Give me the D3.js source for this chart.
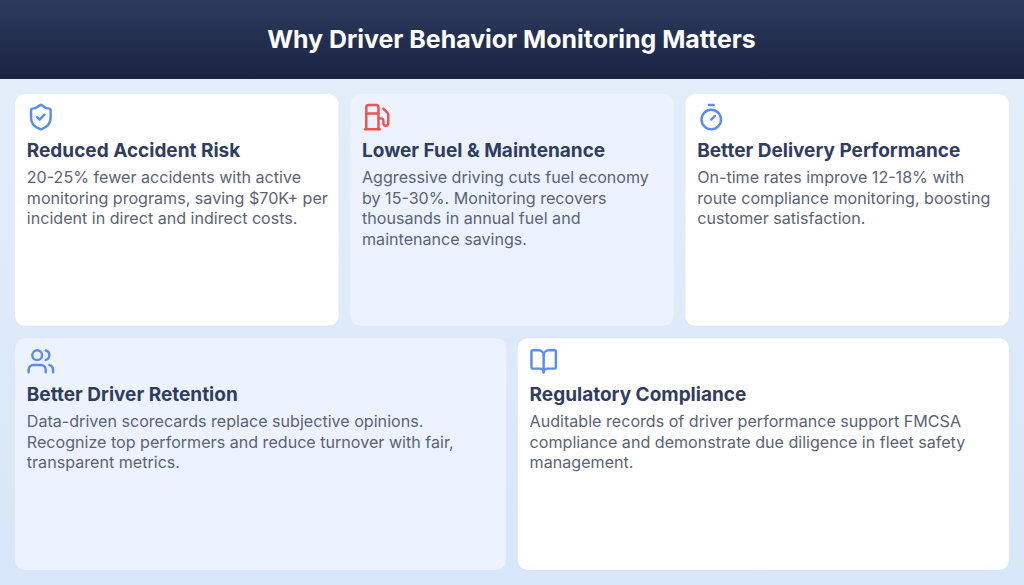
<!DOCTYPE html>
<html>
<head>
<meta charset="utf-8">
<title>Why Driver Behavior Monitoring Matters</title>
<script src="https://cdn.jsdelivr.net/npm/d3@7.9.0/dist/d3.min.js"></script>
<style>
  html, body { margin: 0; padding: 0; background: #dfeafa; overflow: hidden; }
  text { font-family: Inter, sans-serif; }
</style>
</head>
<body>
<svg id="chart"></svg>
<script>
const pageTitle = 'Why Driver Behavior Monitoring Matters';

const cardTitles = [
  'Reduced Accident Risk',
  'Lower Fuel & Maintenance',
  'Better Delivery Performance',
  'Better Driver Retention',
  'Regulatory Compliance',
];

const cardBodies = [
  ['20-25% fewer accidents with active', 'monitoring programs, saving $70K+ per', 'incident in direct and indirect costs.'],
  ['Aggressive driving cuts fuel economy', 'by 15-30%. Monitoring recovers', 'thousands in annual fuel and', 'maintenance savings.'],
  ['On-time rates improve 12-18% with', 'route compliance monitoring, boosting', 'customer satisfaction.'],
  ['Data-driven scorecards replace subjective opinions.', 'Recognize top performers and reduce turnover with fair,', 'transparent metrics.'],
  ['Auditable records of driver performance support FMCSA', 'compliance and demonstrate due diligence in fleet safety', 'management.'],
];

const cardRows = [0, 0, 0, 1, 1];
const cardTints = [false, true, false, true, false];
const iconColors = ['#5b8def', '#f05252', '#5b8def', '#5b8def', '#5b8def'];

// lucide style icons on a 24 unit grid
const iconPaths = [
  ['M20 13c0 5-3.5 7.5-7.66 8.95a1 1 0 0 1-.67-.01C7.5 20.5 4 18 4 13V6a1 1 0 0 1 1-1c2 0 4.5-1.2 6.24-2.72a1.17 1.17 0 0 1 1.52 0C14.51 3.81 17 5 19 5a1 1 0 0 1 1 1z', 'm9 12 2 2 4-4'],
  ['M3 22h12', 'M4 9h10', 'M14 22V4a2 2 0 0 0-2-2H6a2 2 0 0 0-2 2v18', 'M14 13h2a2 2 0 0 1 2 2v2a2 2 0 0 0 2 2a2 2 0 0 0 2-2V9.83a2 2 0 0 0-.59-1.42L18 5'],
  ['M10 2h4', 'M12 14l3-3', 'M20 14a8 8 0 1 1-16 0a8 8 0 1 1 16 0'],
  ['M16 21v-2a4 4 0 0 0-4-4H6a4 4 0 0 0-4 4v2', 'M13 7a4 4 0 1 1-8 0a4 4 0 1 1 8 0', 'M22 21v-2a4 4 0 0 0-3-3.87', 'M16 3.13a4 4 0 0 1 0 7.75'],
  ['M12 7v14', 'M3 18a1 1 0 0 1-1-1V4a1 1 0 0 1 1-1h5a4 4 0 0 1 4 4 4 4 0 0 1 4-4h5a1 1 0 0 1 1 1v13a1 1 0 0 1-1 1h-6a3 3 0 0 0-3 3 3 3 0 0 0-3-3z'],
];

const width = 1024;
const height = 585;
const headerHeight = 79;
const gap = 11.5;
const padX = 15;

const svg = d3.select('#chart')
  .attr('width', width)
  .attr('height', height)
  .style('display', 'block');

const defs = svg.append('defs');

const headerGrad = defs.append('linearGradient')
  .attr('id', 'headerGrad')
  .attr('x1', 0).attr('y1', 0).attr('x2', 0).attr('y2', 1);
headerGrad.append('stop').attr('offset', '0%').attr('stop-color', '#2d3b5e');
headerGrad.append('stop').attr('offset', '100%').attr('stop-color', '#1a2342');

const pageGrad = defs.append('linearGradient')
  .attr('id', 'pageGrad')
  .attr('x1', 0).attr('y1', 0).attr('x2', 0).attr('y2', 1);
pageGrad.append('stop').attr('offset', '0%').attr('stop-color', '#e6eefa');
pageGrad.append('stop').attr('offset', '100%').attr('stop-color', '#d8e6f9');

svg.append('rect').attr('width', width).attr('height', height).attr('fill', 'url(#pageGrad)');
svg.append('rect').attr('width', width).attr('height', headerHeight).attr('fill', 'url(#headerGrad)');

svg.append('text')
  .attr('x', width / 2 - 0.5)
  .attr('y', 47.5)
  .attr('text-anchor', 'middle')
  .attr('fill', '#ffffff')
  .attr('font-size', 24.9)
  .attr('font-weight', 700)
  .text(pageTitle);

// top row has three columns, bottom row two
const rowScale = d3.scaleBand()
  .domain([0, 1])
  .range([94, 570])
  .paddingInner(12 / 238);

const columnScales = d3.groups(cardRows.map((row, i) => ({ row, i })), (d) => d.row)
  .map(([, cards]) => d3.scaleBand()
    .domain(cards.map((d) => d.i))
    .range([padX, width - padX])
    .paddingInner(gap / ((width - 2 * padX) / cards.length)));

const cards = svg.selectAll('g.card')
  .data(cardTitles.map((title, i) => ({
    title,
    body: cardBodies[i],
    row: cardRows[i],
    tint: cardTints[i],
    color: iconColors[i],
    paths: iconPaths[i],
    i,
  })))
  .join('g')
  .attr('class', 'card')
  .attr('transform', (d) => `translate(${columnScales[d.row](d.i)}, ${rowScale(d.row)})`);

cards.append('rect')
  .attr('width', (d) => columnScales[d.row].bandwidth())
  .attr('height', rowScale.bandwidth())
  .attr('rx', 10)
  .attr('fill', (d) => (d.tint ? '#ecf3fe' : '#ffffff'));

cards.append('g')
  .attr('transform', 'translate(11.2, 8.5) scale(1.22)')
  .attr('fill', 'none')
  .attr('stroke', (d) => d.color)
  .attr('stroke-width', 2)
  .attr('stroke-linecap', 'round')
  .attr('stroke-linejoin', 'round')
  .selectAll('path')
  .data((d) => d.paths)
  .join('path')
  .attr('d', (d) => d);

cards.append('text')
  .attr('x', 11.8)
  .attr('y', 62.5)
  .attr('fill', '#2f3d5f')
  .attr('font-size', 19)
  .attr('font-weight', 700)
  .text((d) => d.title);

cards.append('g')
  .selectAll('text')
  .data((d) => d.body)
  .join('text')
  .attr('x', 11.8)
  .attr('y', (d, i) => 89 + i * 20.5)
  .attr('fill', '#5a6475')
  .attr('font-size', 16.1)
  .text((d) => d);
</script>
</body>
</html>
